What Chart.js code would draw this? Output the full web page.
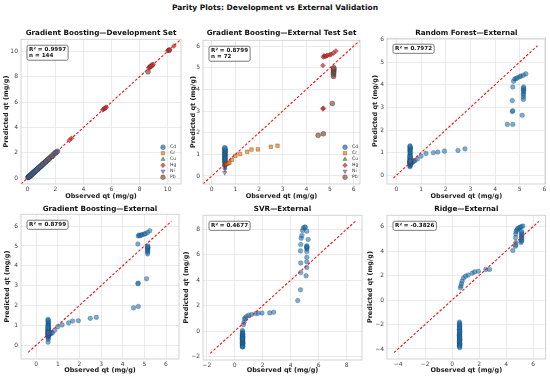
<!DOCTYPE html>
<html><head><meta charset="utf-8">
<script src="https://cdn.jsdelivr.net/npm/chart.js@4.4.1/dist/chart.umd.min.js"></script>
<style>
body{margin:0;background:#fff;width:550px;height:380px;overflow:hidden;position:relative;}
canvas{position:absolute;left:0;top:0;}
#t{position:absolute;top:3px;left:0;width:550px;text-align:center;font:bold 7.5px 'DejaVu Sans';color:#111;line-height:9px;}
</style></head><body>
<div id="t">Parity Plots: Development vs External Validation</div>
<canvas id="c1" width="550" height="380"></canvas>
<canvas id="c2" width="550" height="380"></canvas>
<canvas id="c3" width="550" height="380"></canvas>
<canvas id="c4" width="550" height="380"></canvas>
<canvas id="c5" width="550" height="380"></canvas>
<canvas id="c6" width="550" height="380"></canvas>
<script>
// ---------------- DATA ----------------
const metals = ['Cd','Cr','Cu','Hg','Ni','Pb'];

// Development set (Gradient Boosting)
const devCdObs  = [0.05,0.08,0.1,0.12,0.15,0.18,0.2,0.25,0.3,0.35,0.4,0.45,0.5,0.55,0.6,0.7,0.8,0.95,1.1,1.3,1.5,1.75,2.0,2.15];
const devCdPred = [0.07,0.1,0.09,0.14,0.17,0.16,0.22,0.24,0.31,0.33,0.42,0.44,0.52,0.53,0.62,0.68,0.82,0.93,1.12,1.28,1.52,1.73,2.02,2.12];
const devCrObs  = [0.25,0.35,0.45,0.55,0.6,0.65,0.7,0.75,0.8,0.88,0.95,1.0,1.05,1.12,1.2,1.3,1.4,1.5,1.6,1.68,1.75,1.82,1.9,2.0];
const devCrPred = [0.27,0.36,0.44,0.56,0.62,0.64,0.72,0.74,0.81,0.87,0.96,1.02,1.04,1.13,1.21,1.29,1.42,1.49,1.62,1.7,1.74,1.84,1.92,1.98];
const devCuObs  = [0.15,0.22,0.3,0.38,0.45,0.5,0.58,0.62,0.68,0.72,0.78,0.85,0.9,1.0,1.08,1.15,1.22,1.3,1.38,1.45,1.52,1.6,1.7,1.8];
const devCuPred = [0.16,0.21,0.29,0.37,0.44,0.49,0.55,0.6,0.65,0.7,0.76,0.82,0.88,0.97,1.05,1.12,1.2,1.27,1.35,1.42,1.48,1.56,1.66,1.75];
const devHgObs  = [0.1,0.3,0.5,0.65,0.8,1.0,1.2,1.45,1.7,3.0,3.15,5.38,5.45,5.5,5.55,5.62,8.65,8.72,8.8,8.95,10.0,10.08,10.15,10.45];
const devHgPred = [0.12,0.31,0.52,0.66,0.82,1.01,1.19,1.46,1.72,3.0,3.15,5.4,5.44,5.5,5.55,5.6,8.7,8.72,8.82,8.96,10.05,10.1,10.12,10.42];
const devNiObs  = [0.04,0.07,0.1,0.14,0.18,0.22,0.26,0.3,0.34,0.38,0.42,0.48,0.52,0.58,0.64,0.7,0.76,0.82,0.9,0.98,1.05,1.15,1.25,1.4];
const devNiPred = [0.06,0.08,0.11,0.13,0.2,0.21,0.27,0.29,0.35,0.37,0.43,0.47,0.53,0.57,0.65,0.69,0.77,0.81,0.91,0.97,1.06,1.14,1.26,1.38];
const devPbObs  = [0.12,0.2,0.28,0.35,0.42,0.5,0.58,0.66,0.74,0.82,0.9,1.0,1.1,1.2,1.32,1.45,1.6,1.75,1.9,2.05,8.6,8.75,8.9,10.1];
const devPbPred = [0.13,0.21,0.27,0.36,0.43,0.51,0.57,0.67,0.73,0.83,0.91,0.99,1.11,1.2,1.33,1.44,1.61,1.74,1.91,2.06,8.38,8.78,8.92,10.08];

// External test set: observed values per metal
const extCdObs = [0.55,0.56,0.55,0.57,0.55,0.56,0.55,0.56,0.57,0.55,0.56,0.55];
const extCrObs = [0.62,0.66,0.7,0.75,0.85,1.0,1.2,1.5,1.68,1.95,2.5,2.78];
const extCuObs = [0.56,0.55,0.57,0.55,0.56,0.55,0.57,0.56,0.55,0.56,0.57,0.55];
const extHgObs = [4.7,4.72,4.7,4.72,4.75,4.8,4.85,4.9,5.0,5.05,5.15,5.25];
const extNiObs = [0.55,0.56,0.55,0.57,0.56,0.55,0.56,0.57,0.55,0.56,0.55,0.57];
const extPbObs = [4.5,4.72,5.1,5.15,5.15,5.15,5.15,5.16,5.15,5.16,5.15,5.16];

// Gradient Boosting predictions (external)
const gbCd = [0.72,0.78,0.84,0.9,0.95,1.0,1.05,1.1,1.15,1.2,1.25,1.3];
const gbCr = [0.55,0.58,0.6,0.62,0.75,0.93,1.02,1.12,1.22,1.23,1.35,1.4];
const gbCu = [0.55,0.58,0.62,0.65,0.68,0.7,0.72,0.75,0.78,0.8,0.85,0.9];
const gbHg = [3.1,3.13,5.1,5.5,5.55,5.52,5.55,5.57,5.6,5.62,5.68,5.77];
const gbNi = [0.15,0.3,0.38,0.42,0.45,0.48,0.5,0.52,0.55,0.58,0.6,0.62];
const gbPb = [1.88,1.95,3.35,4.6,4.68,4.75,4.8,4.85,4.9,4.93,4.97,5.0];

// Random Forest predictions (external)
const rfCd = [0.85,0.9,0.95,1.0,1.05,1.1,1.13,1.17,1.2,1.23,1.27,1.3];
const rfCr = [0.55,0.6,0.62,0.65,0.72,0.85,0.97,1.0,1.03,1.07,1.1,1.17];
const rfCu = [0.55,0.58,0.6,0.62,0.65,0.68,0.7,0.72,0.75,0.78,0.8,0.83];
const rfHg = [2.82,2.85,3.3,3.9,4.15,4.25,4.27,4.3,4.35,4.38,4.42,4.48];
const rfNi = [0.38,0.42,0.45,0.48,0.5,0.52,0.54,0.56,0.58,0.6,0.62,0.65];
const rfPb = [2.25,2.25,2.65,3.35,3.45,3.55,3.62,3.7,3.75,3.8,3.85,3.9];

// SVR predictions (external)
const svrCd = [0.05,-0.05,-0.15,-0.25,-0.3,-0.35,-0.4,-0.45,-0.5,-0.55,-0.6,-0.65];
const svrCr = [0.5,0.7,0.95,1.05,1.15,1.25,1.3,1.38,1.4,1.42,1.43,1.48];
const svrCu = [-0.2,-0.3,-0.4,-0.5,-0.6,-0.7,-0.75,-0.8,-0.85,-0.9,-0.95,-1.0];
const svrHg = [3.25,5.35,6.3,6.8,7.3,7.5,7.9,8.1,8.18,8.15,7.85,7.2];
const svrNi = [-0.6,-0.7,-0.8,-0.9,-0.95,-1.0,-1.05,-1.1,-1.15,-1.2,-1.22,-1.25];
const svrPb = [2.4,4.6,4.35,5.0,5.45,5.8,6.25,6.45,6.55,6.62,6.7,6.6];

// Ridge predictions (external)
const rdCd = [-1.8,-1.9,-2.0,-2.1,-2.2,-2.3,-2.4,-2.5,-2.6,-2.7,-2.8,-2.9];
const rdCr = [1.0,1.15,1.35,1.55,1.8,1.95,2.05,2.2,2.3,2.35,2.5,2.5];
const rdCu = [-2.2,-2.4,-2.6,-2.8,-3.0,-3.1,-3.2,-3.3,-3.4,-3.5,-3.6,-3.7];
const rdHg = [4.4,4.7,5.1,5.4,5.6,5.7,5.8,5.85,5.92,5.95,6.0,6.05];
const rdNi = [-2.9,-3.0,-3.1,-3.2,-3.3,-3.4,-3.5,-3.6,-3.7,-3.75,-3.8,-3.9];
const rdPb = [4.05,4.5,4.7,4.8,4.9,5.0,5.1,5.2,5.3,5.4,5.5,5.6];

// Axis limits, identity line ranges, ticks
const lims1 = [-0.45, 10.95], line1 = [-0.45, 10.95], ticks1 = [0,2,4,6,8,10];
const lims2 = [-0.37, 6.27],  line2 = [-0.37, 6.27],  ticks2 = [0,1,2,3,4,5,6];
const lims3 = [-0.38, 6.05],  line3 = [-0.12, 5.72],  ticks3 = [0,1,2,3,4,5,6];
const lims4 = [-0.7, 6.6],    line4 = [-0.37, 6.25],  ticks4 = [0,1,2,3,4,5,6];
const lims5 = [-2.27, 9.1],   line5 = [-1.75, 8.65],  ticks5 = [-2,0,2,4,6,8];
const lims6 = [-4.82, 6.93],  line6 = [-4.3, 6.42],   ticks6 = [-4,-2,0,2,4,6];

const titles = ['Gradient Boosting\u2014Development Set','Gradient Boosting\u2014External Test Set',
  'Random Forest\u2014External','Gradient Boosting\u2014External','SVR\u2014External','Ridge\u2014External'];
const notes = [['R\u00b2 = 0.9997','n = 144'],['R\u00b2 = 0.8799','n = 72'],['R\u00b2 = 0.7972'],
  ['R\u00b2 = 0.8799'],['R\u00b2 = 0.4677'],['R\u00b2 = -0.3826']];

// ---------------- STYLE ----------------
const metalColors = {Cd:'31,119,180',Cr:'255,127,14',Cu:'44,160,44',Hg:'214,39,40',Ni:'148,103,189',Pb:'140,86,75'};
const metalStyles = {Cd:['circle',0],Cr:['rect',0],Cu:['triangle',0],Hg:['rectRot',0],Ni:['triangle',180],Pb:['circle',0]};
const FONT = "'DejaVu Sans'";

function pairs(xs, ys){ return xs.map((x,i)=>({x:x, y:ys[i]})); }
function fmt(v){ return String(Math.round(v*100)/100).replace('-', '\u2212'); }

const decor = {
  id:'decor',
  afterDraw(chart, args, o){
    const ctx = chart.ctx, a = chart.chartArea;
    ctx.save();
    ctx.strokeStyle = '#c8c8c8'; ctx.lineWidth = 0.8;
    ctx.strokeRect(a.left, a.top, a.right-a.left, a.bottom-a.top);
    // annotation box
    const lines = o.note || [];
    ctx.font = "bold 5.6px " + FONT;
    const lh = 5.9, pad = 1.6;
    let w = 0; lines.forEach(t=>{ w = Math.max(w, ctx.measureText(t).width); });
    const bx = a.left + 6, by = a.top + 6, bw = w + 2*pad + 1, bh = lines.length*lh + 2*pad;
    ctx.beginPath();
    if (ctx.roundRect) ctx.roundRect(bx, by, bw, bh, 1.8); else ctx.rect(bx,by,bw,bh);
    ctx.fillStyle = 'rgba(255,255,255,0.9)'; ctx.fill();
    ctx.strokeStyle = '#444'; ctx.lineWidth = 0.7; ctx.stroke();
    ctx.fillStyle = '#111'; ctx.textBaseline = 'middle';
    lines.forEach((t,i)=> ctx.fillText(t, bx + pad + 0.5, by + pad + lh*(i+0.5)));
    // legend
    if (o.legend){
      let row = 0;
      chart.data.datasets.forEach(ds=>{
        if (!ds.legendName) return;
        const y = a.top + o.legendTop + row*6, x = a.right + o.legendX;
        ctx.fillStyle = ds.backgroundColor; ctx.strokeStyle = ds.borderColor; ctx.lineWidth = 0.4;
        Chart.helpers.drawPoint(ctx, {pointStyle: ds.pointStyle, rotation: ds.rotation||0, radius: 2.4, borderWidth: 0.4}, x, y);
        ctx.fillStyle = '#333'; ctx.font = "4.6px " + FONT; ctx.textBaseline = 'middle';
        ctx.fillText(ds.legendName, x + 7, y);
        row++;
      });
    }
    ctx.restore();
  }
};

function metalSets(obsArrs, predArrs, r){
  return metals.map((m,i)=>({
    type:'scatter', legendName:m, data: pairs(obsArrs[i], predArrs[i]),
    backgroundColor:'rgba('+metalColors[m]+',0.72)', borderColor:'rgba(40,40,40,0.75)', borderWidth:0.4,
    pointStyle: metalStyles[m][0], rotation: metalStyles[m][1], pointRadius:r, order:1
  }));
}
function blueSet(obsArrs, predArrs){
  const xs = [].concat(...obsArrs), ys = [].concat(...predArrs);
  return [{type:'scatter', data: pairs(xs, ys), backgroundColor:'rgba(31,119,180,0.6)',
    borderColor:'rgba(20,60,100,0.7)', borderWidth:0.4, pointRadius:2.3, order:1}];
}
function idLine(l){
  return {type:'line', data:[{x:l[0],y:l[0]},{x:l[1],y:l[1]}], borderColor:'#f01414', borderWidth:1.1,
    borderDash:[2.6,1.8], pointRadius:0, fill:false, order:0};
}

function panel(id, rect, lims, ticks, datasets, title, note, extra){
  const WY = rect.L - (rect.yl - 3.9);
  const HX = rect.xl + 3.9 - rect.B;
  const padTop = rect.tt - 4.2;
  const titlePadB = rect.T - padTop - 8.4;
  const axisCommon = (isX)=>({
    type:'linear', min: lims[0], max: lims[1],
    afterBuildTicks: s => { s.ticks = ticks.map(v=>({value:v})); },
    afterFit: s => {
      if (isX){ s.height = HX; s.paddingLeft = 0; s.paddingRight = 0; }
      else { s.width = WY; s.paddingTop = 0; s.paddingBottom = 0; }
    },
    grid:{color:'#e4e4e4', lineWidth:0.8, drawTicks:false},
    border:{display:false},
    ticks:{font:{family:FONT,size:6}, color:'#444', padding: isX?2:3, maxRotation:0, autoSkip:false, callback: v=>fmt(v)},
    title:{display:true, text: isX?'Observed qt (mg/g)':'Predicted qt (mg/g)', color:'#1a1a1a',
      font:{family:FONT,size:6.5,weight:'bold'}, padding:{top:0,bottom:0}}
  });
  new Chart(document.getElementById(id), {
    type:'scatter',
    data:{datasets: datasets},
    options:{
      responsive:false, animation:false, devicePixelRatio:1,
      layout:{padding:{left: rect.L - WY, right: 550 - rect.R, top: padTop, bottom: 380 - rect.B - HX}},
      scales:{x: axisCommon(true), y: axisCommon(false)},
      plugins:{
        legend:{display:false}, tooltip:{enabled:false},
        title:{display:true, text:title, fullSize:false, color:'#111',
          font:{family:FONT,size:7.2,weight:'bold'}, padding:{top:0,bottom:titlePadB}},
        decor: Object.assign({note: note}, extra||{})
      }
    },
    plugins:[decor]
  });
}

const obsAll = [extCdObs, extCrObs, extCuObs, extHgObs, extNiObs, extPbObs];

panel('c1', {L:21,T:39,R:181,B:184,yl:6.5,xl:196,tt:33}, lims1, ticks1,
  [idLine(line1)].concat(metalSets([devCdObs,devCrObs,devCuObs,devHgObs,devNiObs,devPbObs],
    [devCdPred,devCrPred,devCuPred,devHgPred,devNiPred,devPbPred], 2.5)),
  titles[0], notes[0], {legend:true, legendX:-18, legendTop:108});
panel('c2', {L:203,T:40,R:360,B:184,yl:193.5,xl:196,tt:33}, lims2, ticks2,
  [idLine(line2)].concat(metalSets(obsAll, [gbCd,gbCr,gbCu,gbHg,gbNi,gbPb], 2.5)),
  titles[1], notes[1], {legend:true, legendX:-15, legendTop:107});
panel('c3', {L:387,T:38,R:547,B:184,yl:375,xl:196,tt:33}, lims3, ticks3,
  [idLine(line3)].concat(blueSet(obsAll, [rfCd,rfCr,rfCu,rfHg,rfNi,rfPb])),
  titles[2], notes[2]);
panel('c4', {L:21,T:214,R:179,B:359,yl:7,xl:370,tt:209}, lims4, ticks4,
  [idLine(line4)].concat(blueSet(obsAll, [gbCd,gbCr,gbCu,gbHg,gbNi,gbPb])),
  titles[3], notes[3]);
panel('c5', {L:203,T:215,R:362,B:360,yl:186,xl:370,tt:209}, lims5, ticks5,
  [idLine(line5)].concat(blueSet(obsAll, [svrCd,svrCr,svrCu,svrHg,svrNi,svrPb])),
  titles[4], notes[4]);
panel('c6', {L:387,T:215,R:546,B:359,yl:370,xl:370,tt:209}, lims6, ticks6,
  [idLine(line6)].concat(blueSet(obsAll, [rdCd,rdCr,rdCu,rdHg,rdNi,rdPb])),
  titles[5], notes[5]);
</script>
</body></html>
